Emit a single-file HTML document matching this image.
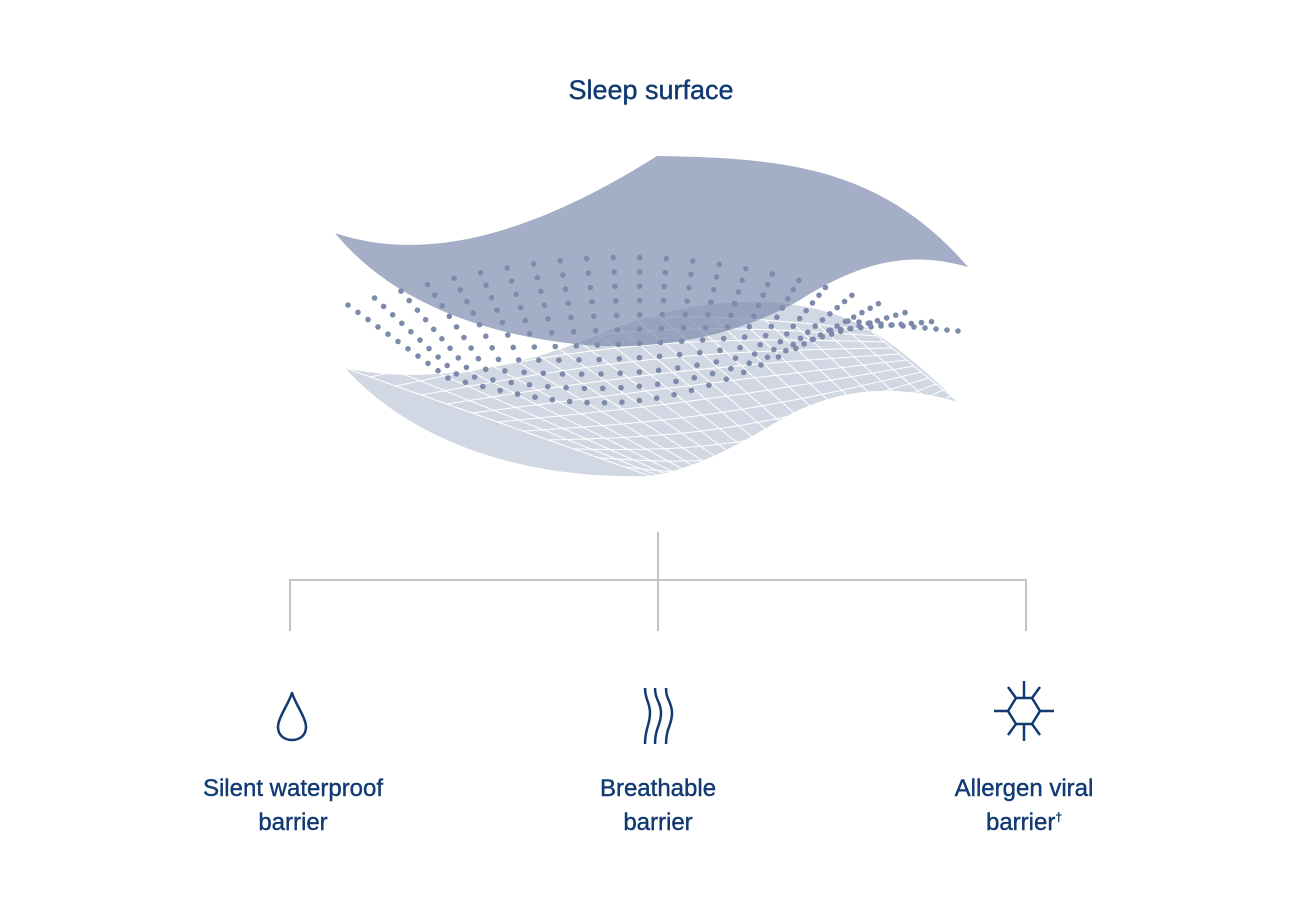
<!DOCTYPE html>
<html><head><meta charset="utf-8"><style>
html,body{margin:0;padding:0;background:#fff;}
body{width:1302px;height:914px;position:relative;overflow:hidden;font-family:"Liberation Sans",sans-serif;color:#123a72;}
.t{position:absolute;text-align:center;font-size:24px;line-height:34px;-webkit-text-stroke:0.4px #123a72;}
</style></head><body>
<svg id="s" width="1302" height="914" style="position:absolute;left:0;top:0">
<defs><clipPath id="bc"><path d="M345,368 C420,385 520,370 610,330 C700,295 800,290 870,330 C910,355 940,385 958,402 C900,385 840,385 780,420 C730,450 690,470 650,476 C520,480 410,440 345,368Z"/></clipPath></defs>
<path d="M345,368 C420,385 520,370 610,330 C700,295 800,290 870,330 C910,355 940,385 958,402 C900,385 840,385 780,420 C730,450 690,470 650,476 C520,480 410,440 345,368Z" fill="#d2d8e3"/>
<g id="grid" clip-path="url(#bc)" stroke="#fff" stroke-width="1" fill="none"></g>
<g id="dots" fill="#7c8aab"></g>
<path d="M335,233 C430,265 540,230 657,156 C780,158 880,165 968,267 C910,250 860,262 800,300 C730,340 650,350 585,345 C480,335 390,300 335,233Z" fill="#7d8cae" fill-opacity="0.7"/>
<g stroke="#c4c4c4" stroke-width="2" fill="none">
<path d="M658,532 V631 M290,631 V580 H1026 V631"/>
</g>
<g stroke="#123a72" stroke-width="2.5" fill="none" stroke-linejoin="round">
<path d="M292,693 C288,705 278,718 278,727 C278,735 284,740 292,740 C300,740 306,735 306,727 C306,718 296,705 292,693Z"/>
<path d="M645,688 C645,700 650,702 650,713 C650,725 645,728 645,744 M655,688 C655,700 661,702 661,713 C661,725 655,728 655,744 M666,688 C666,700 672,702 672,713 C672,725 666,728 666,744"/>
<path d="M1016,698 H1032 L1040,711 L1032,724 H1016 L1008,711 Z M1024,681 V698 M1024,724 V741 M994,711 H1008 M1040,711 H1054 M1016,698 L1008,687 M1032,698 L1040,687 M1016,724 L1008,735 M1032,724 L1040,735"/>
</g>
</svg>
<div class="t" style="left:451px;top:73px;width:400px;font-size:27px;">Sleep surface</div>
<div class="t" style="left:143px;top:772px;width:300px;">Silent waterproof<br>barrier</div>
<div class="t" style="left:508px;top:772px;width:300px;">Breathable<br>barrier</div>
<div class="t" style="left:874px;top:772px;width:300px;">Allergen viral<br>barrier<sup style="font-size:12px;line-height:0">†</sup></div>
<script>
var ns="http://www.w3.org/2000/svg";
function P(u,v){
 var sx=348+100*v, sy=305+73*v, ex=958-110*v, ey=331-10*v, h=60-110*v;
 return [sx+u*(ex-sx), sy+u*(ey-sy)-h*Math.sin(Math.PI*u)];
}
var d=document.getElementById('dots');
for(var r=0;r<11;r++){var v=r/10;for(var i=0;i<24;i++){var u=i/23;var p=P(u,v);
 var c=document.createElementNS(ns,'circle');c.setAttribute('cx',p[0].toFixed(1));c.setAttribute('cy',p[1].toFixed(1));c.setAttribute('r','2.8');d.appendChild(c);}}
var g=document.getElementById('grid');
function G(u,v){
 var sx=345+305*v, sy=368+108*v, ex=870+88*v, ey=330+72*v;
 var h=30-70*v;
 return [sx+u*(ex-sx), sy+u*(ey-sy)-h*Math.sin(Math.PI*u)];
}
for(var a=0;a<=12;a++){var s='';for(var b=0;b<=20;b++){var p=G(b/20,a/12);s+=(b?'L':'M')+p[0].toFixed(1)+','+p[1].toFixed(1);}
 var pa=document.createElementNS(ns,'path');pa.setAttribute('d',s);g.appendChild(pa);}
for(var b=0;b<=20;b++){var s='';for(var a=0;a<=12;a++){var p=G(b/20,a/12);s+=(a?'L':'M')+p[0].toFixed(1)+','+p[1].toFixed(1);}
 var pa=document.createElementNS(ns,'path');pa.setAttribute('d',s);g.appendChild(pa);}
</script>
</body></html>
